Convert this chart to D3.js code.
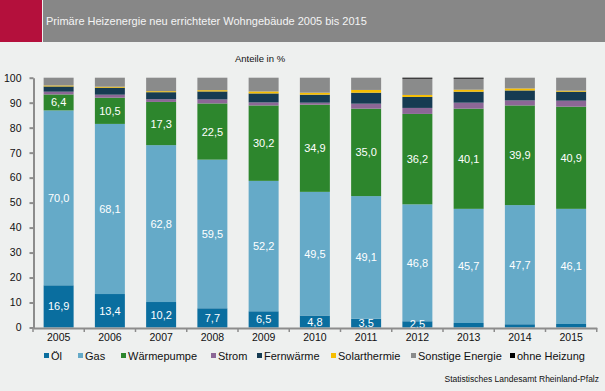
<!DOCTYPE html>
<html><head><meta charset="utf-8">
<script src="https://cdn.jsdelivr.net/npm/d3@7"></script>
<style>
html,body{margin:0;padding:0;background:#eef0ef;}
svg{display:block;font-family:"Liberation Sans",Arial,sans-serif;}
</style></head><body>
<svg id="c" width="605" height="391"></svg>
<script>
const years = ["2005","2006","2007","2008","2009","2010","2011","2012","2013","2014","2015"];
const seriesNames = ["Öl","Gas","Wärmepumpe","Strom","Fernwärme","Solarthermie","Sonstige Energie","ohne Heizung"];
const colors = ["#0a6e9f","#65aac8","#2d862d","#8c6796","#163b52","#f6bd00","#8a8b8b","#000000"];
const oel         = [16.9,13.4,10.2,7.7,6.5,4.8,3.5,2.5,1.8,1.3,1.4];
const gas         = [70.0,68.1,62.8,59.5,52.2,49.5,49.1,46.8,45.7,47.7,46.1];
const waermepumpe = [6.4,10.5,17.3,22.5,30.2,34.9,35.0,36.2,40.1,39.9,40.9];
const strom       = [1.1,1.2,1.1,1.6,1.2,0.8,2.0,2.4,2.4,2.0,2.4];
const fernwaerme  = [2.1,2.8,2.8,3.2,3.6,3.2,4.4,4.4,4.4,4.0,3.6];
const solar       = [0.4,0.4,0.4,0.5,0.8,0.8,1.1,0.8,0.8,0.8,0.4];
const sonstige    = [3.1,3.6,5.4,5.0,5.5,6.0,4.9,6.5,4.4,4.3,5.2];
const ohneHeizung = [0.0,0.0,0.0,0.0,0.0,0.0,0.0,0.4,0.4,0.0,0.0];
const yTicks = [0,10,20,30,40,50,60,70,80,90,100];
const labeled = [true,true,true,false,false,false,false,false];

const seriesVals = [oel,gas,waermepumpe,strom,fernwaerme,solar,sonstige,ohneHeizung];
const rows = years.map((y,i)=>{const r={year:y}; seriesNames.forEach((s,k)=>r[s]=seriesVals[k][i]); return r;});
const stacked = d3.stack().keys(seriesNames)(rows);

const svg = d3.select("#c");
// header
svg.append("rect").attr("x",0).attr("y",0).attr("width",42).attr("height",42).attr("fill","#b4103c");
svg.append("rect").attr("x",43).attr("y",0).attr("width",562).attr("height",42).attr("fill","#878787");
svg.append("text").attr("x",46).attr("y",25).attr("fill","#f4f4f4").attr("font-size","11px")
  .text("Primäre Heizenergie neu errichteter Wohngebäude 2005 bis 2015");
svg.append("text").attr("x",260).attr("y",62).attr("text-anchor","middle").attr("fill","#111").attr("font-size","9.5px")
  .text("Anteile in %");

const x = d3.scaleBand().domain(years).range([33,596.75]).paddingInner(0.415).paddingOuter(0.2075);
const y = d3.scaleLinear().domain([0,100]).range([327.5,77.7]);

const g = svg.append("g");
stacked.forEach((layer,k)=>{
  g.append("g").selectAll("rect").data(layer).join("rect")
    .attr("x",d=>x(d.data.year)).attr("width",x.bandwidth())
    .attr("y",d=>y(d[1])).attr("height",d=>Math.max(0,y(d[0])-y(d[1])))
    .attr("fill",colors[k]);
});
const fmt = v=>d3.format(".1f")(v).replace(".",",");
stacked.forEach((layer,k)=>{
  if(!labeled[k]) return;
  g.append("g").selectAll("text").data(layer.filter(d=>d[1]-d[0]>=2.5)).join("text")
    .attr("x",d=>x(d.data.year)+x.bandwidth()/2)
    .attr("y",d=>(y(d[0])+y(d[1]))/2+4)
    .attr("text-anchor","middle").attr("fill","#ffffff").attr("font-size","11px")
    .text(d=>fmt(d[1]-d[0]));
});

// axes
const axisCol="#8c8c8c";
const yAxis = svg.append("g").attr("transform","translate(33.5,0)")
  .call(d3.axisLeft(y).tickValues(yTicks).tickSize(4).tickSizeOuter(0).tickPadding(8));
yAxis.select(".domain").attr("stroke",axisCol).attr("stroke-width",2);
yAxis.selectAll(".tick line").attr("stroke",axisCol).attr("stroke-width",2);
yAxis.selectAll("text").attr("font-size","10.5px").attr("fill","#111").attr("font-family","Liberation Sans, Arial, sans-serif");

const xAxis = svg.append("g").attr("transform","translate(0,328)")
  .call(d3.axisBottom(x).tickSize(0).tickPadding(6));
xAxis.select(".domain").attr("stroke",axisCol).attr("stroke-width",2);
xAxis.selectAll("text").attr("font-size","10.5px").attr("fill","#111").attr("font-family","Liberation Sans, Arial, sans-serif");
// boundary ticks
const bounds = years.map(d=>x(d)-x.step()*x.paddingInner()/2).concat([596.75]);
xAxis.selectAll("line.b").data(bounds).join("line").attr("class","b")
  .attr("x1",d=>d).attr("x2",d=>d).attr("y1",0).attr("y2",4)
  .attr("stroke",axisCol).attr("stroke-width",1.5);

// legend
const legX = [44,78,121,211,257,331,411,510];
const leg = svg.append("g");
seriesNames.forEach((s,k)=>{
  leg.append("rect").attr("x",legX[k]).attr("y",353).attr("width",5).attr("height",5).attr("fill",colors[k]);
  leg.append("text").attr("x",legX[k]+7).attr("y",359.5).attr("font-size","11px").attr("fill","#111").text(s);
});

svg.append("text").attr("x",599).attr("y",382).attr("text-anchor","end").attr("font-size","8.5px").attr("fill","#111")
  .attr("font-family","Liberation Sans Narrow, Liberation Sans, Arial, sans-serif")
  .text("Statistisches Landesamt Rheinland-Pfalz");
</script>
</body></html>
